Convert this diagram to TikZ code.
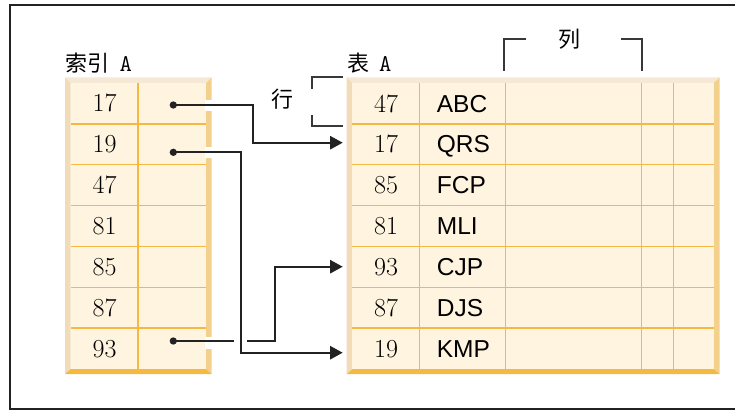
\documentclass[tikz,border=0pt]{standalone}
\usepackage{fontspec}
\setsansfont{Liberation Sans}
\newfontfamily\cjk{Noto Sans CJK SC}
\usetikzlibrary{arrows.meta}
\definecolor{cellfill}{HTML}{FFF4E0}
\definecolor{gridc}{HTML}{F5B942}
\definecolor{bevtop}{HTML}{F5E8D5}
\definecolor{bevleft}{HTML}{F2DCB8}
\definecolor{bevright}{HTML}{F3D08C}
\definecolor{bevbot}{HTML}{F5B942}
\definecolor{ink}{HTML}{222222}
\newcommand\bevelbox[4]{%
  \fill[bevtop]   (#1,#2) -- (#3,#2) -- (#3-5.7,#2+5.7) -- (#1+5.7,#2+5.7) -- cycle;
  \fill[bevleft]  (#1,#2) -- (#1+5.7,#2+5.7) -- (#1+5.7,#4-5) -- (#1,#4) -- cycle;
  \fill[bevright] (#3,#2) -- (#3-5.7,#2+5.7) -- (#3-5.7,#4-5) -- (#3,#4) -- cycle;
  \fill[bevbot]   (#1,#4) -- (#1+5.7,#4-5) -- (#3-5.7,#4-5) -- (#3,#4) -- cycle;
  \fill[cellfill] (#1+5.7,#2+5.7) rectangle (#3-5.7,#4-5);
}
\begin{document}
\begin{tikzpicture}[x=1pt,y=-1pt,
  gridline/.style={draw=gridc,line width=1.5pt},
  numtxt/.style={inner sep=0pt,anchor=base,font=\fontsize{26}{30}\selectfont},
  abctxt/.style={inner sep=0pt,anchor=base west,font=\sffamily\fontsize{24.5}{28}\selectfont},
  lbl/.style={inner sep=0pt,anchor=base west,font=\fontsize{22}{26}\selectfont},
  cjklbl/.style={inner sep=0pt,font=\cjk\fontsize{22}{26}\selectfont},
  dotn/.style={circle,fill=ink,inner sep=0pt,minimum size=7.3pt},
  conn/.style={draw=ink,line width=2pt,-{Triangle[length=12.7pt,width=13.3pt]}},
  brk/.style={draw=ink!90,line width=2pt},
  frm/.style={draw=ink,line width=2pt}]
\useasboundingbox (0,0) rectangle (735,410);
% frame
\draw[frm] (735,5) -- (10,5) -- (10,409) -- (735,409);
% index box
\bevelbox{65}{77.3}{211.7}{374}
% table box
\bevelbox{346.7}{77.3}{719.5}{374}
% grid lines
\foreach \k in {1,...,6}{
  \draw[gridline] (71,83+40.857*\k) -- (206,83+40.857*\k);
  \draw[gridline] (352.4,83+40.857*\k) -- (714,83+40.857*\k);
}
\draw[gridline] (138,83) -- (138,369);
\foreach \cx in {419.3,505.7,641.7,673.7}{
  \draw[gridline] (\cx,83) -- (\cx,369);
}
% index keys
\foreach \v [count=\k] in {17,19,47,81,85,87,93}{
  \node[numtxt] (i\k) at (104.5,83+40.857*\k-20.43+8.5) {\v};
}
% table rows
\foreach \v/\w [count=\k] in {47/ABC,17/QRS,85/FCP,81/MLI,93/CJP,87/DJS,19/KMP}{
  \node[numtxt] (n\k) at (386,83+40.857*\k-20.43+8.6) {\v};
  \node[abctxt] (c\k) at (436.7,83+40.857*\k-20.43+8.7) {\w};
}
% labels
\node[lbl] (lblI) at (65.5,71.7) {{\cjk 索引}\hspace{10pt}{\ttfamily\fontsize{24}{28}\selectfont A}};
\node[lbl] (lblT) at (347,71.7) {{\cjk 表}\hspace{10pt}{\ttfamily\fontsize{24}{28}\selectfont A}};
\node[cjklbl] (row) at (282.5,99) {行};
\node[cjklbl] (col) at (569.5,39) {列};
% brackets
\draw[brk] (311.7,89.3) -- (311.7,77.3) -- (342.7,77.3);
\draw[brk] (311.7,115) -- (311.7,126) -- (342.7,126);
\draw[brk] (504,70.7) -- (504,39.3) -- (525.7,39.3);
\draw[brk] (621,39.3) -- (641.7,39.3) -- (641.7,70.7);
% pointer dots and targets
\node[dotn] (p1) at (173.3,105) {};
\node[dotn] (p2) at (173.3,152.3) {};
\node[dotn] (p7) at (173.3,341) {};
\coordinate (t2) at (342.7,142.7);
\coordinate (t5) at (342.7,266.7);
\coordinate (t7) at (342.7,352.7);
% gaps in the right bevel where pointers cross it
\fill[white] (205.4,100) rectangle (212.5,110.7);
\fill[white] (205.4,146.7) rectangle (212.5,158);
\fill[white] (205.4,337.3) rectangle (212.5,349);
% connectors
\draw[conn] (p7.center) -- ++(102,0) |- (t5);
\draw[white,line width=4pt] (234,341) -- (246.5,341);
\draw[conn] (p1.center) -- ++(79.4,0) |- (t2);
\draw[conn] (p2.center) -- ++(67.4,0) |- (t7);
\end{tikzpicture}
\end{document}
